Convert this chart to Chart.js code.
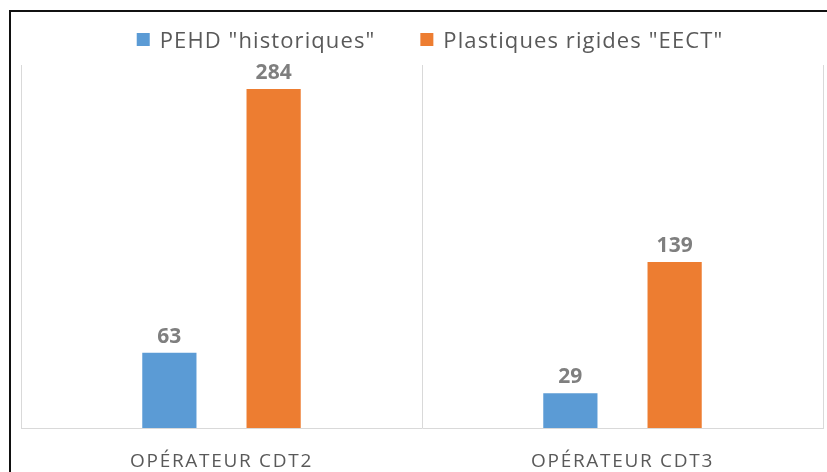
<!DOCTYPE html>
<html>
<head>
<meta charset="utf-8">
<script src="https://cdn.jsdelivr.net/npm/chart.js@4/dist/chart.umd.min.js"></script>
<style>
  html, body { margin: 0; padding: 0; background: #fff; }
  #wrap { position: relative; width: 827px; height: 472px; }
  #frame { position: absolute; left: 9px; top: 10px; right: -4px; bottom: -4px;
           border-top: 2px solid #111; border-left: 2px solid #111; pointer-events: none; }
</style>
</head>
<body>
<div id="wrap">
  <canvas id="chart" width="827" height="472"></canvas>
  <div id="frame"></div>
</div>
<script>
const categories = ["OPÉRATEUR CDT2", "OPÉRATEUR CDT3"];
const seriesNames = ['PEHD "historiques"', 'Plastiques rigides "EECT"'];
const pehdValues = [63, 29];
const rigidValues = [284, 139];
const colors = ["#5B9BD5", "#ED7D31"];

// value labels above bars
const valueLabels = {
  id: "valueLabels",
  afterDatasetsDraw(chart) {
    const ctx = chart.ctx;
    ctx.save();
    ctx.font = "bold 21px 'Open Sans'";
    ctx.fillStyle = "#7F7F7F";
    ctx.textAlign = "center";
    ctx.textBaseline = "alphabetic";
    chart.data.datasets.forEach((ds, i) => {
      chart.getDatasetMeta(i).data.forEach((bar, j) => {
        ctx.fillText(String(ds.data[j]), bar.x, bar.y - 10);
      });
    });
    ctx.restore();
  },
};

// category labels + legend, spaced out like the original
const textBits = {
  id: "textBits",
  afterDraw(chart) {
    const ctx = chart.ctx;
    const xScale = chart.scales.x;
    ctx.save();
    ctx.font = "19px 'Open Sans'";
    ctx.letterSpacing = "1.7px";
    ctx.fillStyle = "#595959";
    ctx.textAlign = "center";
    ctx.textBaseline = "alphabetic";
    categories.forEach((c, i) => {
      ctx.fillText(c, xScale.getPixelForValue(i), 467);
    });

    // legend
    ctx.font = "22px 'Open Sans'";
    ctx.letterSpacing = "1.1px";
    ctx.textAlign = "left";
    const box = 13, gap = 10, between = 45;
    const widths = chart.data.datasets.map(ds => box + gap + ctx.measureText(ds.label).width);
    const total = widths.reduce((a, b) => a + b, 0) + between * (widths.length - 1);
    let x = 430 - total / 2;
    chart.data.datasets.forEach((ds, i) => {
      ctx.fillStyle = ds.backgroundColor;
      ctx.fillRect(x, 33, box, box);
      ctx.fillStyle = "#595959";
      ctx.fillText(ds.label, x + box + gap, 48);
      x += widths[i] + between;
    });
    ctx.restore();
  },
};

new Chart(document.getElementById("chart"), {
  type: "bar",
  data: {
    labels: categories,
    datasets: [
      { label: seriesNames[0], data: pehdValues, backgroundColor: colors[0] },
      { label: seriesNames[1], data: rigidValues, backgroundColor: colors[1] },
    ],
  },
  options: {
    responsive: false,
    animation: false,
    categoryPercentage: 0.52,
    barPercentage: 0.52,
    layout: { padding: { left: 21, right: 4, top: 65, bottom: 44 } },
    plugins: {
      tooltip: { enabled: false },
      legend: { display: false },
    },
    scales: {
      x: {
        grid: { offset: true, color: "#D9D9D9", drawTicks: false },
        border: { display: true, color: "#D9D9D9" },
        ticks: { display: false },
      },
      y: { display: false, min: 0, max: 304 },
    },
  },
  plugins: [valueLabels, textBits],
});
</script>
</body>
</html>
